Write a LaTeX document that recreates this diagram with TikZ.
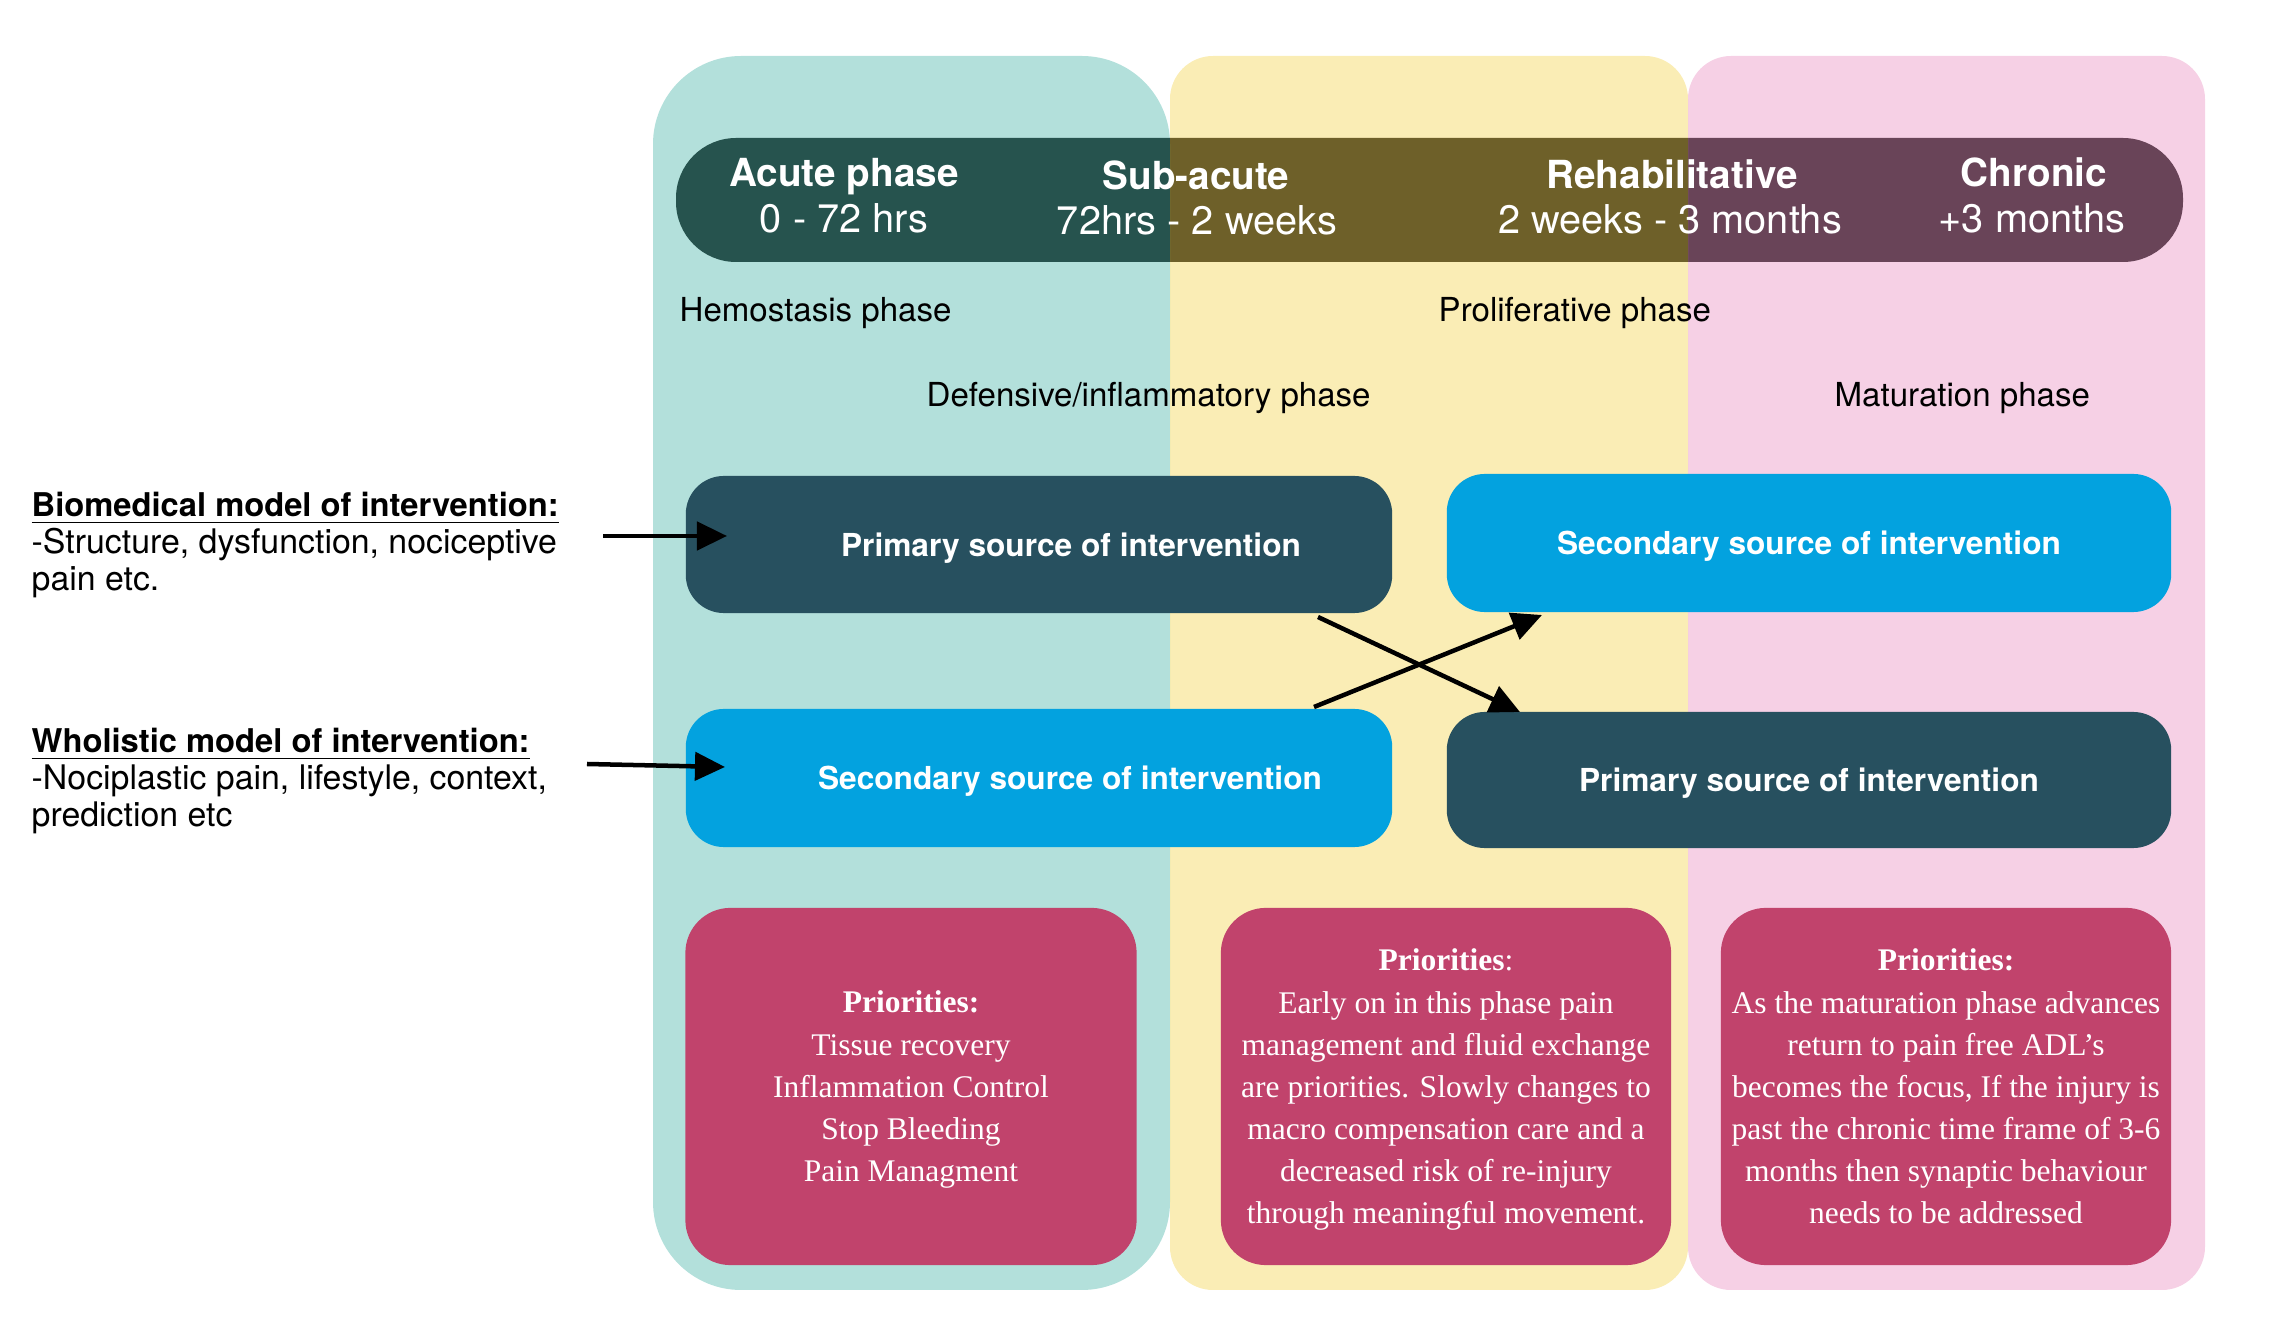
\documentclass[tikz,border=0pt]{standalone}
\usepackage{fontspec}
\setsansfont{TeX Gyre Heros}
\newfontfamily\prfont{Liberation Serif}
\usetikzlibrary{arrows.meta,calc}
\definecolor{colteal}{RGB}{86,186,175}
\definecolor{colyellow}{RGB}{244,215,91}
\definecolor{colpink}{RGB}{235,151,197}
\definecolor{darkbox}{RGB}{39,80,95}
\definecolor{bluebox}{RGB}{3,162,223}
\definecolor{prio}{RGB}{193,67,108}
\tikzset{
  bartitle/.style={anchor=base, text=white, inner sep=0pt, font=\sffamily\bfseries\fontsize{11.0}{13}\selectfont},
  barsub/.style={anchor=base, text=white, inner sep=0pt, font=\sffamily\fontsize{11.3}{13}\selectfont},
  phaselab/.style={anchor=base west, text=black, inner sep=0pt, font=\sffamily\fontsize{9.4}{11}\selectfont},
  leftlab/.style={anchor=base west, text=black, inner sep=0pt, font=\sffamily\fontsize{9.63}{10.39}\selectfont},
  lefthead/.style={font=\sffamily\bfseries\fontsize{9.3}{10.39}\selectfont},
  srcbox/.style={rounded corners=0.38cm, inner sep=0pt},
  srctext/.style={anchor=base, text=white, inner sep=0pt, font=\sffamily\bfseries\fontsize{9.0}{11}\selectfont},
  priobox/.style={fill=prio, rounded corners=0.45cm, inner sep=0pt},
  priotext/.style={anchor=base, text=white, inner sep=0pt, font=\prfont\fontsize{8.96}{11.95}\selectfont},
  thickarrow/.style={line width=0.045cm, -{Triangle[length=0.3cm,width=0.28cm]}},
}
\newcommand{\headfont}{\sffamily\bfseries\fontsize{9.3}{10.39}\selectfont}
\begin{document}
\begin{tikzpicture}[x=0.01cm,y=-0.01cm]
\useasboundingbox (0,0) rectangle (2274,1340);
% timeline bar (under the translucent columns)
\fill[black, rounded corners=0.6cm] (676,138) rectangle (2183,262);
% columns
\fill[colteal, fill opacity=0.45, rounded corners=0.88cm] (653,56) rectangle (1170,1290);
\fill[colyellow, fill opacity=0.45, rounded corners=0.43cm] (1170,56) rectangle (1688,1290);
\fill[colpink, fill opacity=0.45, rounded corners=0.43cm] (1688,56) rectangle (2205,1290);
% bar texts
\node[bartitle] (t1) at (844,187) {Acute phase};
\node[barsub] (s1) at (844,233) {0 - 72 hrs};
\node[bartitle] (t2) at (1196,190) {Sub-acute};
\node[barsub] (s2) at (1197,235) {72hrs - 2 weeks};
\node[bartitle] (t3) at (1672,189) {Rehabilitative};
\node[barsub] (s3) at (1670,234) {2 weeks - 3 months};
\node[bartitle] (t4) at (2034,187) {Chronic};
\node[barsub] (s4) at (2032,233) {+3 months};
% phase labels
\node[phaselab] (hemo) at (679,322) {Hemostasis phase};
\node[phaselab] (prolif) at (1438,322) {Proliferative phase};
\node[phaselab] (defens) at (926,407) {Defensive/inflammatory phase};
\node[phaselab] (matur) at (1834,407) {Maturation phase};
% left labels
\node[leftlab] (bio) at (31,517) {\begin{tabular}[t]{@{}l@{}}{\headfont\underline{Biomedical model of intervention:}}\\-Structure, dysfunction, nociceptive\\pain etc.\end{tabular}};
\node[leftlab] (whol) at (31,753) {\begin{tabular}[t]{@{}l@{}}{\headfont\underline{Wholistic model of intervention:}}\\-Nociplastic pain, lifestyle, context,\\prediction etc\end{tabular}};
% source boxes
\node[srcbox, fill=darkbox, minimum width=7.06cm, minimum height=1.37cm] (pl) at (1039,544.5) {};
\node[srcbox, fill=bluebox, minimum width=7.06cm, minimum height=1.38cm] (sl) at (1039,778) {};
\node[srcbox, fill=bluebox, minimum width=7.24cm, minimum height=1.38cm] (sr) at (1809,543) {};
\node[srcbox, fill=darkbox, minimum width=7.24cm, minimum height=1.36cm] (pr) at (1809,780) {};
\node[srctext] (plt) at (1071,557) {Primary source of intervention};
\node[srctext] (slt) at (1070,790) {Secondary source of intervention};
\node[srctext] (srt) at (1809,555) {Secondary source of intervention};
\node[srctext] (prt) at (1809,792) {Primary source of intervention};
% arrows from the left labels
\coordinate (a1s) at (603,536);
\coordinate (a1e) at (727,536);
\coordinate (a2s) at (587,764);
\coordinate (a2e) at (725,767);
\draw[thickarrow] (a1s) -- (a1e);
\draw[thickarrow] (a2s) -- (a2e);
% crossing arrows
\coordinate (c1s) at (1318,617);
\coordinate (c1e) at (1520,712);
\coordinate (c2s) at (1314,707);
\coordinate (c2e) at (1542,615);
\draw[thickarrow] (c1s) -- (c1e);
\draw[thickarrow] (c2s) -- (c2e);
% priority boxes
\node[priobox, minimum width=4.51cm, minimum height=3.57cm] (p1) at (911,1086.5) {};
\node[priobox, minimum width=4.50cm, minimum height=3.57cm] (p2) at (1446,1086.5) {};
\node[priobox, minimum width=4.50cm, minimum height=3.57cm] (p3) at (1946,1086.5) {};
\node[priotext] (p1t) at (911,1013) {\begin{tabular}[t]{@{}c@{}}\textbf{Priorities:}\\Tissue recovery\\Inflammation Control\\Stop Bleeding\\Pain Managment\end{tabular}};
\node[priotext] (p2t) at (1446,971) {\begin{tabular}[t]{@{}c@{}}\textbf{Priorities}:\\Early on in this phase pain\\management and fluid exchange\\are priorities. Slowly changes to\\macro compensation care and a\\decreased risk of re-injury\\through meaningful movement.\end{tabular}};
\node[priotext] (p3t) at (1946,971) {\begin{tabular}[t]{@{}c@{}}\textbf{Priorities:}\\As the maturation phase advances\\return to pain free ADL’s\\becomes the focus, If the injury is\\past the chronic time frame of 3-6\\months then synaptic behaviour\\needs to be addressed\end{tabular}};
\end{tikzpicture}
\end{document}
